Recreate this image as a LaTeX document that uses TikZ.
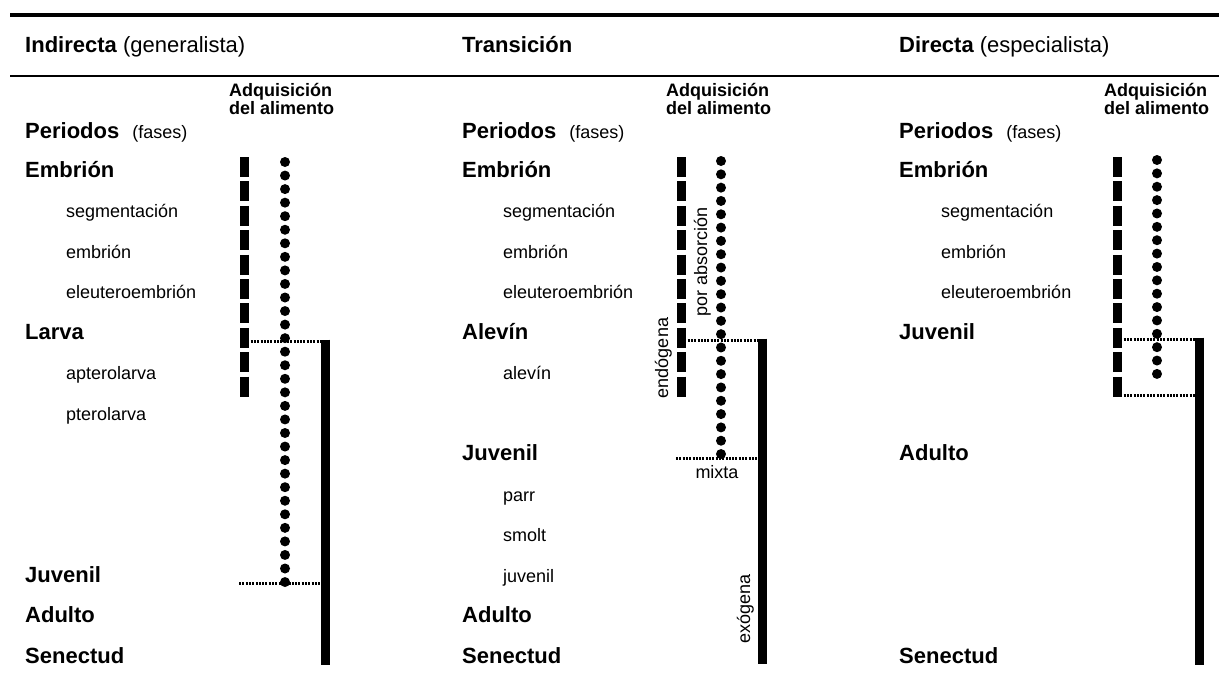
\documentclass[tikz,border=0pt]{standalone}
\usepackage{fontspec}
\setmainfont{Liberation Sans}
\newcommand{\fases}{\hspace{13pt}{\mdseries\fontsize{18}{21}\selectfont(fases)}}

\begin{document}
\begin{tikzpicture}[x=1pt,y=-1pt,
    big/.style={font=\bfseries\fontsize{22}{26}\selectfont,anchor=base west,inner sep=0pt},
    sub/.style={font=\fontsize{18}{21}\selectfont,anchor=base west,inner sep=0pt},
    side/.style={font=\fontsize{18}{21}\selectfont,rotate=90,anchor=base,inner sep=0pt},
    food/.style={font=\bfseries\fontsize{18}{15}\selectfont,align=left,anchor=west,inner sep=0pt},
    endo/.style={line width=9pt,dash pattern=on 20pt off 4.4pt},
    absor/.style={line width=10pt,line cap=round,dash pattern=on 0pt off #1},
    mix/.style={line width=3pt,dash pattern=on 2pt off 1.3pt},
    exo/.style={line width=9pt}]
    \useasboundingbox (0,0) rectangle (1219,680);

    % rules
    \draw[line width=4pt] (10,15) -- (1219,15);
    \draw[line width=2pt] (10,76) -- (1219,76);

    % headers
    \node[big] (ind) at (25,52) {Indirecta \mdseries(generalista)};
    \node[big] (tra) at (462,52) {Transición};
    \node[big] (dir) at (899,52) {Directa \mdseries(especialista)};

    % common rows
    \foreach \x/\c in {25/1,462/2,899/3} {
      \node[big] (per\c) at (\x,138) {Periodos\fases};
      \node[big] (emb\c) at (\x,177) {Embrión};
    }
    \foreach \x/\c in {66/1,503/2,941/3}
      \foreach \t [count=\k] in {segmentación,embrión,eleuteroembrión}
        \node[sub] (s\c-\k) at (\x,{177+40.5*\k}) {\t};
    \foreach \x/\c in {229/1,666/2,1104/3}
      \node[food] (adq\c) at (\x,99) {Adquisición\\del alimento};

    % indirecta
    \node[big] (lar1) at (25,339) {Larva};
    \node[sub] (apt1) at (66,379.5) {apterolarva};
    \node[sub] (pte1) at (66,420) {pterolarva};
    \node[big] (juv1) at (25,582) {Juvenil};
    \node[big] (adu1) at (25,622.5) {Adulto};
    \node[big] (sen1) at (25,663) {Senectud};

    % transicion
    \node[big] (ale2) at (462,339) {Alevín};
    \node[sub] (alv2) at (503,379.5) {alevín};
    \node[big] (juv2) at (462,460.5) {Juvenil};
    \node[sub] (par2) at (503,501) {parr};
    \node[sub] (smo2) at (503,541.5) {smolt};
    \node[sub] (jvl2) at (503,582) {juvenil};
    \node[big] (adu2) at (462,622.5) {Adulto};
    \node[big] (sen2) at (462,663) {Senectud};

    % directa
    \node[big] (juv3) at (899,339) {Juvenil};
    \node[big] (adu3) at (899,460.5) {Adulto};
    \node[big] (sen3) at (899,663) {Senectud};

    % bar ends
    \coordinate (e1t) at (244,157);   \coordinate (e1b) at (244,399);
    \coordinate (a1t) at (285,162);   \coordinate (a1b) at (285,583);
    \coordinate (m1w) at (244,341);   \coordinate (m1e) at (321,341);
    \coordinate (n1w) at (239,583);   \coordinate (n1e) at (321,583);
    \coordinate (x1t) at (325,339.5); \coordinate (x1b) at (325,665);

    \coordinate (e2t) at (681,157);   \coordinate (e2b) at (681,399);
    \coordinate (a2t) at (721,161);   \coordinate (a2b) at (721,454.5);
    \coordinate (m2w) at (681,340);   \coordinate (m2e) at (758,340);
    \coordinate (n2w) at (676,458);   \coordinate (n2e) at (758,458);
    \coordinate (x2t) at (762,338.5); \coordinate (x2b) at (762,664);

    \coordinate (e3t) at (1117,157);  \coordinate (e3b) at (1117,398);
    \coordinate (a3t) at (1157,160);  \coordinate (a3b) at (1157,374.5);
    \coordinate (m3w) at (1117,339);  \coordinate (m3e) at (1195,339);
    \coordinate (n3w) at (1117,395);  \coordinate (n3e) at (1195,395);
    \coordinate (x3t) at (1199,337.5);\coordinate (x3b) at (1199,665);

    % bars
    \foreach \c in {1,2,3} {
      \draw[endo] (e\c t) -- (e\c b);
      \draw[mix] (m\c w) -- (m\c e);
      \draw[mix] (n\c w) -- (n\c e);
      \draw[exo] (x\c t) -- (x\c b);
    }
    \draw[absor=13.55pt] (a1t) -- (a1b);
    \draw[absor=13.32pt] (a2t) -- (a2b);
    \draw[absor=13.37pt] (a3t) -- (a3b);

    % side labels
    \node[side] (abs2) at (707,262) {por absorción};
    \node[side] (end2) at (668,358) {endógena};
    \node[side] (exg2) at (750,609) {exógena};
    \node[sub,anchor=base] (mix2) at (717,478) {mixta};
\end{tikzpicture}
\end{document}
